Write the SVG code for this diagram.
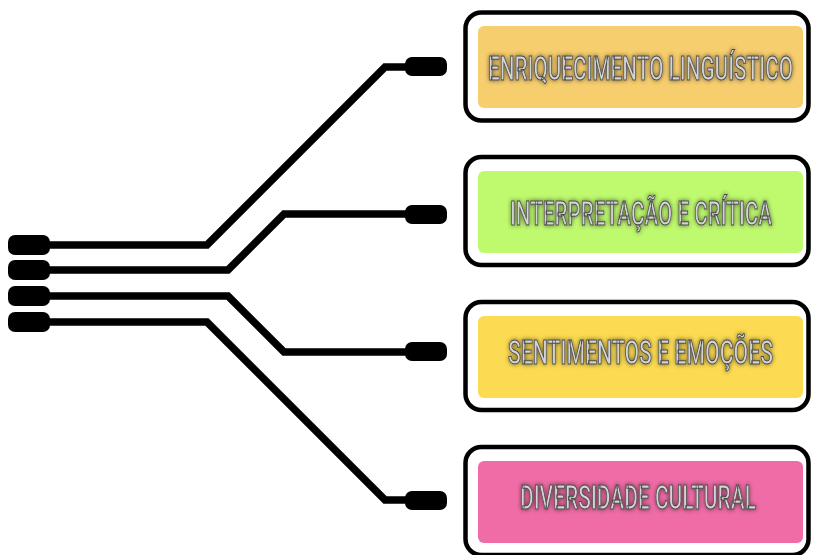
<svg xmlns="http://www.w3.org/2000/svg" width="814" height="555" viewBox="0 0 814 555">
<defs>
<style>
.wire{fill:none;stroke:#000;stroke-width:7.5;stroke-linejoin:miter}
.pill{fill:#000}
.frame{fill:#fff;stroke:#000;stroke-width:4.5}
.lbl{font-family:Roboto,"Liberation Sans",sans-serif;font-size:20px;font-weight:500;fill:#d4d4d4;stroke:#4a4a4a;stroke-width:0.65;filter:url(#glow)}
</style>
<filter id="glow" x="-20%" y="-100%" width="140%" height="300%">
<feGaussianBlur in="SourceAlpha" stdDeviation="2.2 1.6" result="b"/>
<feComponentTransfer in="b" result="s"><feFuncA type="linear" slope="0.6"/></feComponentTransfer>
<feMerge><feMergeNode in="s"/><feMergeNode in="SourceGraphic"/></feMerge>
</filter>
</defs>
<rect width="814" height="555" fill="#fff"/>
<g id="connectors">
<polyline class="wire" points="48,245 207,245 385,67 410,67"/>
<polyline class="wire" points="48,270 228,270 284,214 410,214"/>
<polyline class="wire" points="48,296 228,296 284,352 410,352"/>
<polyline class="wire" points="48,322 207,322 385,500 410,500"/>
<rect class="pill" x="8" y="235" width="42" height="20" rx="7"/>
<rect class="pill" x="8" y="260" width="42" height="20" rx="7"/>
<rect class="pill" x="8" y="286" width="42" height="20" rx="7"/>
<rect class="pill" x="8" y="312" width="42" height="20" rx="7"/>
<rect class="pill" x="405" y="57" width="42" height="19" rx="7"/>
<rect class="pill" x="405" y="205" width="42" height="19" rx="7"/>
<rect class="pill" x="405" y="342" width="42" height="19" rx="7"/>
<rect class="pill" x="405" y="491" width="42" height="19" rx="7"/>
</g>
<g id="n1">
<rect class="frame" x="465.5" y="12.5" width="343" height="108" rx="16"/>
<rect x="478" y="26" width="325" height="82" rx="6" fill="#F7CE6E"/>
<text class="lbl" transform="translate(488,80) scale(1,1.62)" textLength="305" lengthAdjust="spacingAndGlyphs">ENRIQUECIMENTO LINGUÍSTICO</text>
</g>
<g id="n2">
<rect class="frame" x="465.5" y="157" width="343" height="108" rx="16"/>
<rect x="478" y="171" width="325" height="82" rx="6" fill="#BEF96E"/>
<text class="lbl" transform="translate(510,225) scale(1,1.62)" textLength="262" lengthAdjust="spacingAndGlyphs">INTERPRETAÇÃO E CRÍTICA</text>
</g>
<g id="n3">
<rect class="frame" x="465.5" y="302" width="343" height="108" rx="16"/>
<rect x="478" y="316" width="325" height="82" rx="6" fill="#FCDB52"/>
<text class="lbl" transform="translate(508,364) scale(1,1.62)" textLength="265" lengthAdjust="spacingAndGlyphs">SENTIMENTOS E EMOÇÕES</text>
</g>
<g id="n4">
<rect class="frame" x="465.5" y="447" width="343" height="108" rx="16"/>
<rect x="478" y="461" width="325" height="82" rx="6" fill="#EF6CA6"/>
<text class="lbl" transform="translate(520,509) scale(1,1.62)" textLength="236" lengthAdjust="spacingAndGlyphs">DIVERSIDADE CULTURAL</text>
</g>
</svg>
